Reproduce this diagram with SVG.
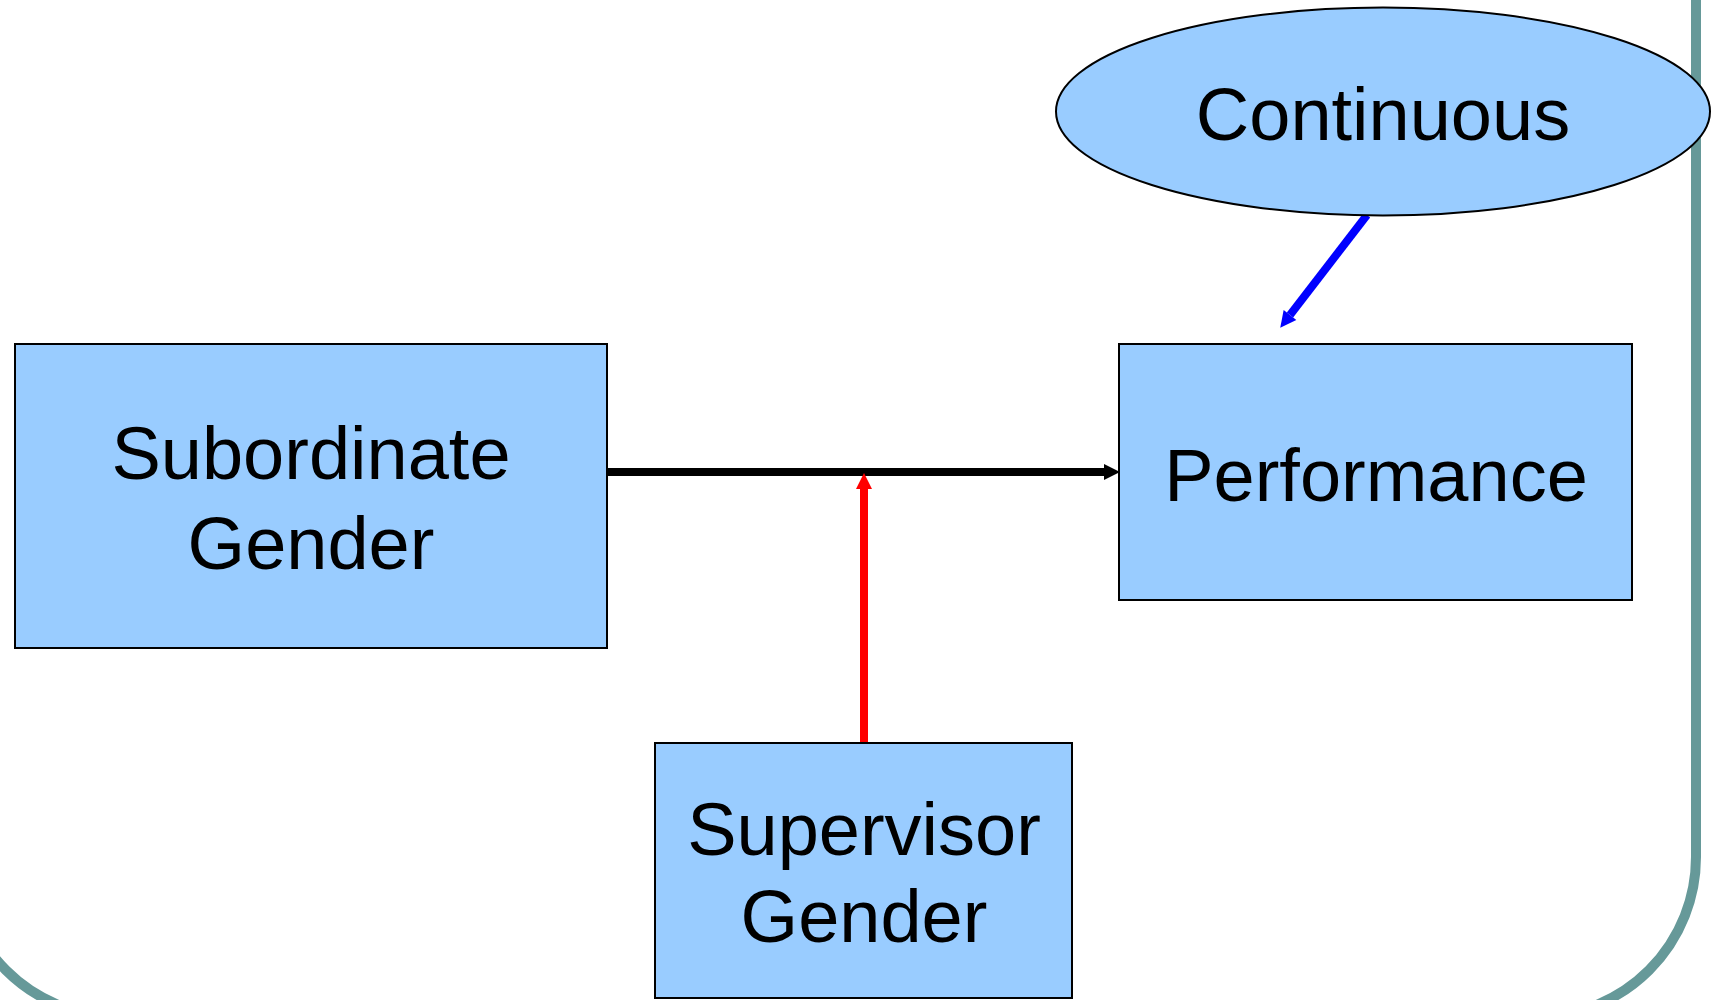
<svg xmlns="http://www.w3.org/2000/svg" width="1719" height="1000" viewBox="0 0 1719 1000">
<style>
.box{fill:#99CCFF;stroke:#000;stroke-width:2}
.lbl{font-family:"Liberation Sans",Arial,sans-serif;font-size:74px;fill:#000;text-anchor:middle}
</style>
<defs>
<marker id="ahBlack" markerUnits="userSpaceOnUse" markerWidth="16" markerHeight="16" viewBox="0 0 16 16" refX="0" refY="8" orient="auto" overflow="visible"><path d="M0,0 L16,8 L0,16 z" fill="#000"/></marker>
<marker id="ahRed" markerUnits="userSpaceOnUse" markerWidth="16" markerHeight="16" viewBox="0 0 16 16" refX="0" refY="8" orient="auto" overflow="visible"><path d="M0,0 L16,8 L0,16 z" fill="#FF0000"/></marker>
<marker id="ahBlue" markerUnits="userSpaceOnUse" markerWidth="16" markerHeight="16" viewBox="0 0 16 16" refX="0" refY="8" orient="auto" overflow="visible"><path d="M0,0 L16,8 L0,16 z" fill="#0000FF"/></marker>
</defs>
<rect width="1719" height="1000" fill="#fff"/>
<rect id="frame" x="-41" y="-400" width="1737" height="1417" rx="160" ry="160" fill="none" stroke="#669999" stroke-width="10"/>
<g id="connectors">
<path d="M608,472 H1104" stroke="#000" stroke-width="8" fill="none" marker-end="url(#ahBlack)"/>
<path d="M864,744 V489" stroke="#FF0000" stroke-width="8" fill="none" marker-end="url(#ahRed)"/>
<path d="M1367,215 L1290,315" stroke="#0000FF" stroke-width="8" fill="none" marker-end="url(#ahBlue)"/>
</g>
<g id="continuous">
<ellipse cx="1383" cy="111.5" rx="327" ry="104" class="box"/>
<text x="1383" y="140" class="lbl">Continuous</text>
</g>
<g id="subordinate">
<rect x="15" y="344" width="592" height="304" class="box"/>
<text x="311" y="479" class="lbl">Subordinate</text>
<text x="311" y="569" class="lbl">Gender</text>
</g>
<g id="performance">
<rect x="1119" y="344" width="513" height="256" class="box"/>
<text x="1376" y="501" class="lbl">Performance</text>
</g>
<g id="supervisor">
<rect x="655" y="743" width="417" height="255" class="box"/>
<text x="864" y="855" class="lbl">Supervisor</text>
<text x="864" y="942" class="lbl">Gender</text>
</g>
</svg>
